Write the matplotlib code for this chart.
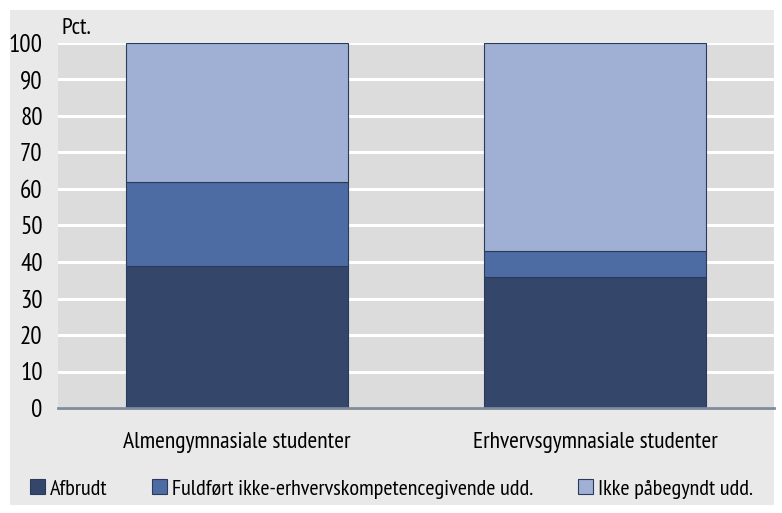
import matplotlib
matplotlib.use("Agg")
import matplotlib.pyplot as plt
import numpy as np
from matplotlib.patches import Rectangle

categories = ["Almengymnasiale studenter", "Erhvervsgymnasiale studenter"]
series_names = ["Afbrudt", "Fuldført ikke-erhvervskompetencegivende udd.", "Ikke påbegyndt udd."]
afbrudt = [39, 36]
fuldfoert = [23, 7]
ikke_paabegyndt = [38, 57]
y_ticks = [0, 10, 20, 30, 40, 50, 60, 70, 80, 90, 100]

colors = ["#34476a", "#4d6ca3", "#9fb0d4"]
edge = "#2a3a58"

plt.rcParams["font.family"] = ["PT Sans Narrow", "DejaVu Sans"]
FS = 17

fig = plt.figure(figsize=(7.82, 5.13), dpi=100)
fig.patch.set_facecolor("white")
# outer light gray panel, drawn behind the axes
panel = Rectangle((10 / 782, 8 / 513), 764 / 782, 495 / 513,
                  transform=fig.transFigure, facecolor="#e9e9e9",
                  edgecolor="none", zorder=-10)
fig.patches.append(panel)

ax = fig.add_axes([58 / 782, (513 - 408) / 513, 716 / 782, 365 / 513])
ax.set_zorder(1)
ax.set_facecolor("#dcdcdc")

x = np.arange(len(categories))
width = 0.62
bottom = np.zeros(len(categories))
for vals, name, c in zip([afbrudt, fuldfoert, ikke_paabegyndt], series_names, colors):
    ax.bar(x, vals, width, bottom=bottom, color=c, edgecolor=edge,
           linewidth=0.8, label=name, zorder=3)
    bottom += np.array(vals)

ax.set_xlim(-0.5, len(categories) - 0.5)
ax.set_ylim(0, 100)
ax.set_yticks(y_ticks)
ax.set_yticklabels([str(t) for t in y_ticks], fontsize=FS + 1)
ax.set_xticks(x)
ax.set_xticklabels(categories, fontsize=FS)
ax.tick_params(axis="both", length=0)
ax.tick_params(axis="x", pad=17)
ax.tick_params(axis="y", pad=11)

ax.yaxis.grid(True, color="white", linewidth=2.2, zorder=1)
ax.set_axisbelow(True)
for s in ["top", "right", "left"]:
    ax.spines[s].set_visible(False)
ax.spines["bottom"].set_color("#7f8a9a")
ax.spines["bottom"].set_linewidth(2)
ax.spines["bottom"].set_zorder(4)

ax.text(0.005, 1.01, "Pct.", transform=ax.transAxes, fontsize=FS,
        ha="left", va="bottom")

ax.legend(loc="center left", bbox_to_anchor=(-37 / 716, -0.222), ncol=3,
          frameon=False, fontsize=FS - 1, handlelength=0.66, handleheight=0.66,
          handletextpad=0.25, columnspacing=2.0, borderaxespad=0)

fig.savefig("out.png", dpi=100, facecolor=fig.get_facecolor())
